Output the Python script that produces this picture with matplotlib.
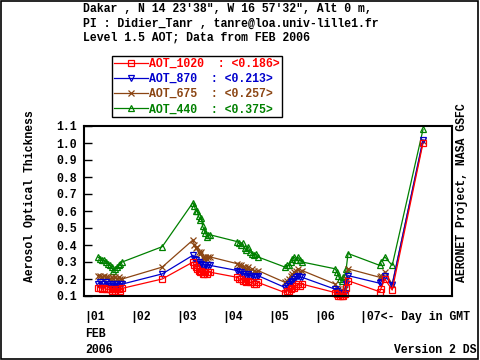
import matplotlib
matplotlib.use('Agg')
import matplotlib.pyplot as plt
from matplotlib.lines import Line2D
from matplotlib.patches import Rectangle

# day of Feb 2006 (GMT) for every measurement
days = [1.30, 1.35, 1.40, 1.44, 1.48, 1.52, 1.56, 1.60, 1.63, 1.67, 1.71, 1.75, 1.79, 1.83,
        2.70,
        3.37, 3.40, 3.43, 3.46, 3.49, 3.52, 3.55, 3.58, 3.61, 3.64, 3.67, 3.70, 3.74,
        4.33, 4.37, 4.41, 4.45, 4.49, 4.53, 4.57, 4.61, 4.65, 4.69, 4.73, 4.78,
        5.37, 5.41, 5.45, 5.49, 5.53, 5.57, 5.61, 5.65, 5.69, 5.74,
        6.46, 6.50, 6.53, 6.56, 6.60, 6.63, 6.67, 6.70, 6.74,
        7.43, 7.45, 7.54, 7.70, 8.37]

aot_440 = [0.33, 0.32, 0.31, 0.31, 0.30, 0.29, 0.28, 0.27, 0.25, 0.26, 0.27, 0.28, 0.29, 0.30,
           0.39,
           0.65, 0.63, 0.60, 0.60, 0.57, 0.55, 0.56, 0.51, 0.49, 0.47, 0.45, 0.46, 0.46,
           0.42, 0.41, 0.40, 0.41, 0.38, 0.37, 0.39, 0.36, 0.35, 0.34, 0.35, 0.33,
           0.27, 0.28, 0.28, 0.30, 0.32, 0.33, 0.31, 0.33, 0.31, 0.30,
           0.26, 0.24, 0.22, 0.20, 0.19, 0.21, 0.22, 0.26, 0.35,
           0.28, 0.30, 0.33, 0.28, 1.08]
aot_675 = [0.22, 0.22, 0.21, 0.22, 0.21, 0.21, 0.20, 0.21, 0.20, 0.21, 0.20, 0.21, 0.20, 0.20,
           0.27,
           0.43, 0.40, 0.38, 0.39, 0.36, 0.35, 0.36, 0.33, 0.32, 0.33, 0.32, 0.33, 0.33,
           0.29, 0.28, 0.28, 0.27, 0.27, 0.26, 0.27, 0.25, 0.26, 0.25, 0.24, 0.25,
           0.18, 0.19, 0.20, 0.22, 0.23, 0.24, 0.25, 0.26, 0.24, 0.25,
           0.17, 0.15, 0.14, 0.13, 0.12, 0.13, 0.14, 0.20, 0.26,
           0.21, 0.22, 0.24, 0.17, 1.01]
aot_870 = [0.17, 0.18, 0.17, 0.17, 0.18, 0.17, 0.16, 0.17, 0.16, 0.17, 0.17, 0.16, 0.17, 0.17,
           0.23,
           0.34, 0.32, 0.31, 0.30, 0.30, 0.28, 0.29, 0.27, 0.27, 0.28, 0.27, 0.28, 0.28,
           0.25, 0.24, 0.24, 0.23, 0.23, 0.22, 0.23, 0.22, 0.22, 0.21, 0.21, 0.22,
           0.15, 0.16, 0.17, 0.18, 0.19, 0.20, 0.21, 0.22, 0.21, 0.21,
           0.14, 0.13, 0.12, 0.11, 0.11, 0.11, 0.12, 0.17, 0.22,
           0.175, 0.18, 0.22, 0.165, 1.02]
aot_1020 = [0.15, 0.15, 0.14, 0.15, 0.14, 0.14, 0.14, 0.13, 0.14, 0.13, 0.14, 0.14, 0.13, 0.145,
            0.20,
            0.30, 0.28, 0.27, 0.26, 0.25, 0.24, 0.25, 0.23, 0.23, 0.24, 0.23, 0.24, 0.24,
            0.21, 0.20, 0.20, 0.19, 0.19, 0.18, 0.19, 0.18, 0.18, 0.17, 0.17, 0.18,
            0.12, 0.13, 0.13, 0.14, 0.15, 0.15, 0.16, 0.17, 0.16, 0.17,
            0.12, 0.11, 0.10, 0.10, 0.10, 0.10, 0.11, 0.15, 0.19,
            0.125, 0.14, 0.20, 0.135, 1.00]

names = ['AOT_1020  : <0.186>', 'AOT_870  : <0.213>', 'AOT_675  : <0.257>', 'AOT_440  : <0.375>']
colors = ['#ff0000', '#0000cc', '#8b4513', '#008000']
markers = ['s', 'v', 'x', '^']
series = [aot_1020, aot_870, aot_675, aot_440]

yticks = [0.1, 0.2, 0.3, 0.4, 0.5, 0.6, 0.7, 0.8, 0.9, 1.0, 1.1]
xticks = [1, 2, 3, 4, 5, 6, 7]
xlabels = ['|01', '|02', '|03', '|04', '|05', '|06', '|07<- Day in GMT']

mono = 'Liberation Mono'
fs = 8.3

fig = plt.figure(figsize=(4.8, 3.6), dpi=100)
ax = fig.add_axes([84 / 480, 64 / 360, 368 / 480, 170 / 360])

# draw 440 first so the red curve ends on top
for vals, c, m in list(zip(series, colors, markers))[::-1]:
    ax.plot(days, vals, color=c, lw=0.9, marker=m, ms=5, mfc='none', mew=0.9,
            clip_on=False)

ax.set_xlim(1, 9)
ax.set_ylim(0.1, 1.1)
ax.set_yticks(yticks)
ax.set_yticklabels(['%.1f' % v for v in yticks], fontfamily=mono, fontweight='bold', fontsize=fs)
ax.set_xticks(xticks)
ax.set_xticklabels(xlabels, fontfamily=mono, fontweight='bold', fontsize=fs, ha='left')
ax.tick_params(axis='x', length=0, pad=11)
ax.tick_params(axis='y', direction='in', length=6, width=1, pad=5)
for sp in ax.spines.values():
    sp.set_linewidth(1.5)

ax.set_ylabel('Aerosol Optical Thickness', fontfamily=mono, fontweight='bold', fontsize=fs)
ax.yaxis.set_label_coords(-48 / 368, 0.59)

fig.text(462 / 480, 1 - 193 / 360, 'AERONET Project, NASA GSFC', rotation=90, ha='center',
         va='center', fontfamily=mono, fontweight='bold', fontsize=fs)

title = ['Dakar , N 14 23\'38", W 16 57\'32", Alt 0 m,',
         'PI : Didier_Tanr , tanre@loa.univ-lille1.fr',
         'Level 1.5 AOT; Data from FEB 2006']
for i, line in enumerate(title):
    fig.text(83 / 480, 1 - (9 + 14.5 * i) / 360, line, ha='left', va='center',
             fontfamily=mono, fontweight='bold', fontsize=fs)

fig.text(85 / 480, 1 - 334 / 360, 'FEB', ha='left', va='center',
         fontfamily=mono, fontweight='bold', fontsize=fs)
fig.text(85 / 480, 1 - 350 / 360, '2006', ha='left', va='center',
         fontfamily=mono, fontweight='bold', fontsize=fs)
fig.text(476 / 480, 1 - 350 / 360, 'Version 2 DS', ha='right', va='center',
         fontfamily=mono, fontweight='bold', fontsize=fs)

handles = [Line2D([], [], color=c, lw=0.9, marker=m, ms=5, mfc='none', mew=0.9)
           for c, m in zip(colors, markers)]
leg = fig.legend(handles, names, loc='upper left', bbox_to_anchor=(112 / 480, 1 - 56 / 360),
                 prop={'family': mono, 'weight': 'bold', 'size': fs},
                 handlelength=3.0, handletextpad=0.1, labelspacing=0.28,
                 borderpad=0.15, borderaxespad=0, fancybox=False, framealpha=1)
leg.get_frame().set_edgecolor('black')
leg.get_frame().set_linewidth(1)
for t, c in zip(leg.get_texts(), colors):
    t.set_color(c)

fig.patches.append(Rectangle((0.002, 0.003), 0.994, 0.994, transform=fig.transFigure,
                             fill=False, edgecolor='black', lw=1.2))

fig.savefig('out.png', dpi=100)
